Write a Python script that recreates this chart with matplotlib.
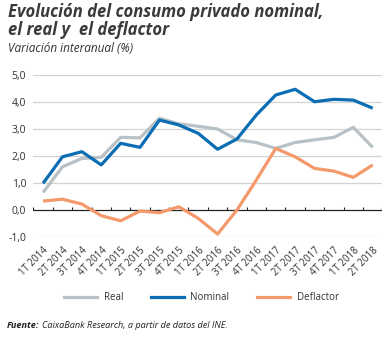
import matplotlib
matplotlib.use("Agg")
import matplotlib.pyplot as plt
from matplotlib.lines import Line2D

# Quarterly labels and year-on-year growth (%)
quarters = ["1T 2014", "2T 2014", "3T 2014", "4T 2014",
            "1T 2015", "2T 2015", "3T 2015", "4T 2015",
            "1T 2016", "2T 2016", "3T 2016", "4T 2016",
            "1T 2017", "2T 2017", "3T 2017", "4T 2017",
            "1T 2018", "2T 2018"]
real = [0.65, 1.6, 1.91, 1.95, 2.69, 2.67, 3.4, 3.19,
        3.1, 3.0, 2.6, 2.5, 2.28, 2.5, 2.6, 2.69, 3.06, 2.32]
nominal = [0.99, 1.97, 2.16, 1.67, 2.47, 2.32, 3.33, 3.15,
           2.84, 2.25, 2.63, 3.52, 4.26, 4.47, 4.01, 4.1, 4.07, 3.77]
deflactor = [0.33, 0.4, 0.22, -0.21, -0.4, -0.04, -0.1, 0.12,
             -0.31, -0.89, 0.0, 1.11, 2.28, 1.97, 1.54, 1.44, 1.21, 1.67]
yticks = [-1, 0, 1, 2, 3, 4, 5]

GRAY = "#b7c1c6"
BLUE = "#0b6db3"
ORANGE = "#f4996b"
TEXT = "#333333"

plt.rcParams["font.family"] = ["Open Sans", "DejaVu Sans"]

fig = plt.figure(figsize=(3.87, 3.38), dpi=100)
ax = fig.add_axes([33 / 387, 1 - 237 / 338, 349 / 387, 162 / 338])

x = list(range(len(quarters)))
ax.plot(x, real, color=GRAY, lw=2.3, solid_capstyle="butt", zorder=3)
ax.plot(x, deflactor, color=ORANGE, lw=2.3, solid_capstyle="butt", zorder=4)
ax.plot(x, nominal, color=BLUE, lw=2.3, solid_capstyle="butt", zorder=5)

# gridlines and zero axis with small ticks between categories
for v in yticks:
    if v != 0:
        ax.axhline(v, color="#d3d3d3", lw=0.9, zorder=1)
ax.axhline(0, color="#222222", lw=0.9, zorder=2)
ax.vlines([i - 0.5 for i in range(len(quarters) + 1)], 0, 0.11,
          color="#222222", lw=0.8, zorder=2)

ax.set_xlim(-0.52, len(quarters) - 0.52)
ax.set_ylim(-1.0, 5.0)
for s in ax.spines.values():
    s.set_visible(False)
ax.set_yticks(yticks)
ax.set_yticklabels([f"{v:.1f}".replace(".", ",") for v in yticks],
                   fontsize=7.5, color=TEXT)
ax.set_xticks(x)
ax.set_xticklabels(quarters, rotation=45, ha="right", rotation_mode="anchor",
                   fontsize=7, color=TEXT)
ax.tick_params(axis="both", length=0)
ax.tick_params(axis="y", pad=5)
ax.tick_params(axis="x", pad=6)

# title block
fig.text(8 / 387, 1 - 3 / 338, "Evolución del consumo privado nominal,\nel real y  el deflactor",
         fontsize=12, fontweight="bold", fontstyle="italic", color="#3a3a3a",
         va="top", ha="left", linespacing=1.0)
fig.text(8 / 387, 1 - 42 / 338, "Variación interanual (%)", fontsize=8.5,
         fontstyle="italic", color=TEXT, va="top", ha="left")

# legend
handles = [Line2D([], [], color=c, lw=2.3) for c in (GRAY, BLUE, ORANGE)]
fig.legend(handles, ["Real", "Nominal", "Deflactor"], loc="center",
           bbox_to_anchor=(0.52, 1 - 298 / 338), ncol=3, frameon=False,
           fontsize=7, handlelength=3.4, columnspacing=2.8, handletextpad=0.7,
           labelcolor=TEXT)

# source line
fig.canvas.draw()
t1 = fig.text(7 / 387, 1 - 326 / 338, "Fuente:", fontsize=6.6, fontweight="bold",
              fontstyle="italic", color="#222222", va="center", ha="left")
bb = t1.get_window_extent(fig.canvas.get_renderer())
fig.text((bb.x1 + 2) / 387, 1 - 326 / 338,
         "CaixaBank Research, a partir de datos del INE.", fontsize=6.6,
         fontstyle="italic", color="#222222", va="center", ha="left")

fig.savefig("out.png", dpi=100)
